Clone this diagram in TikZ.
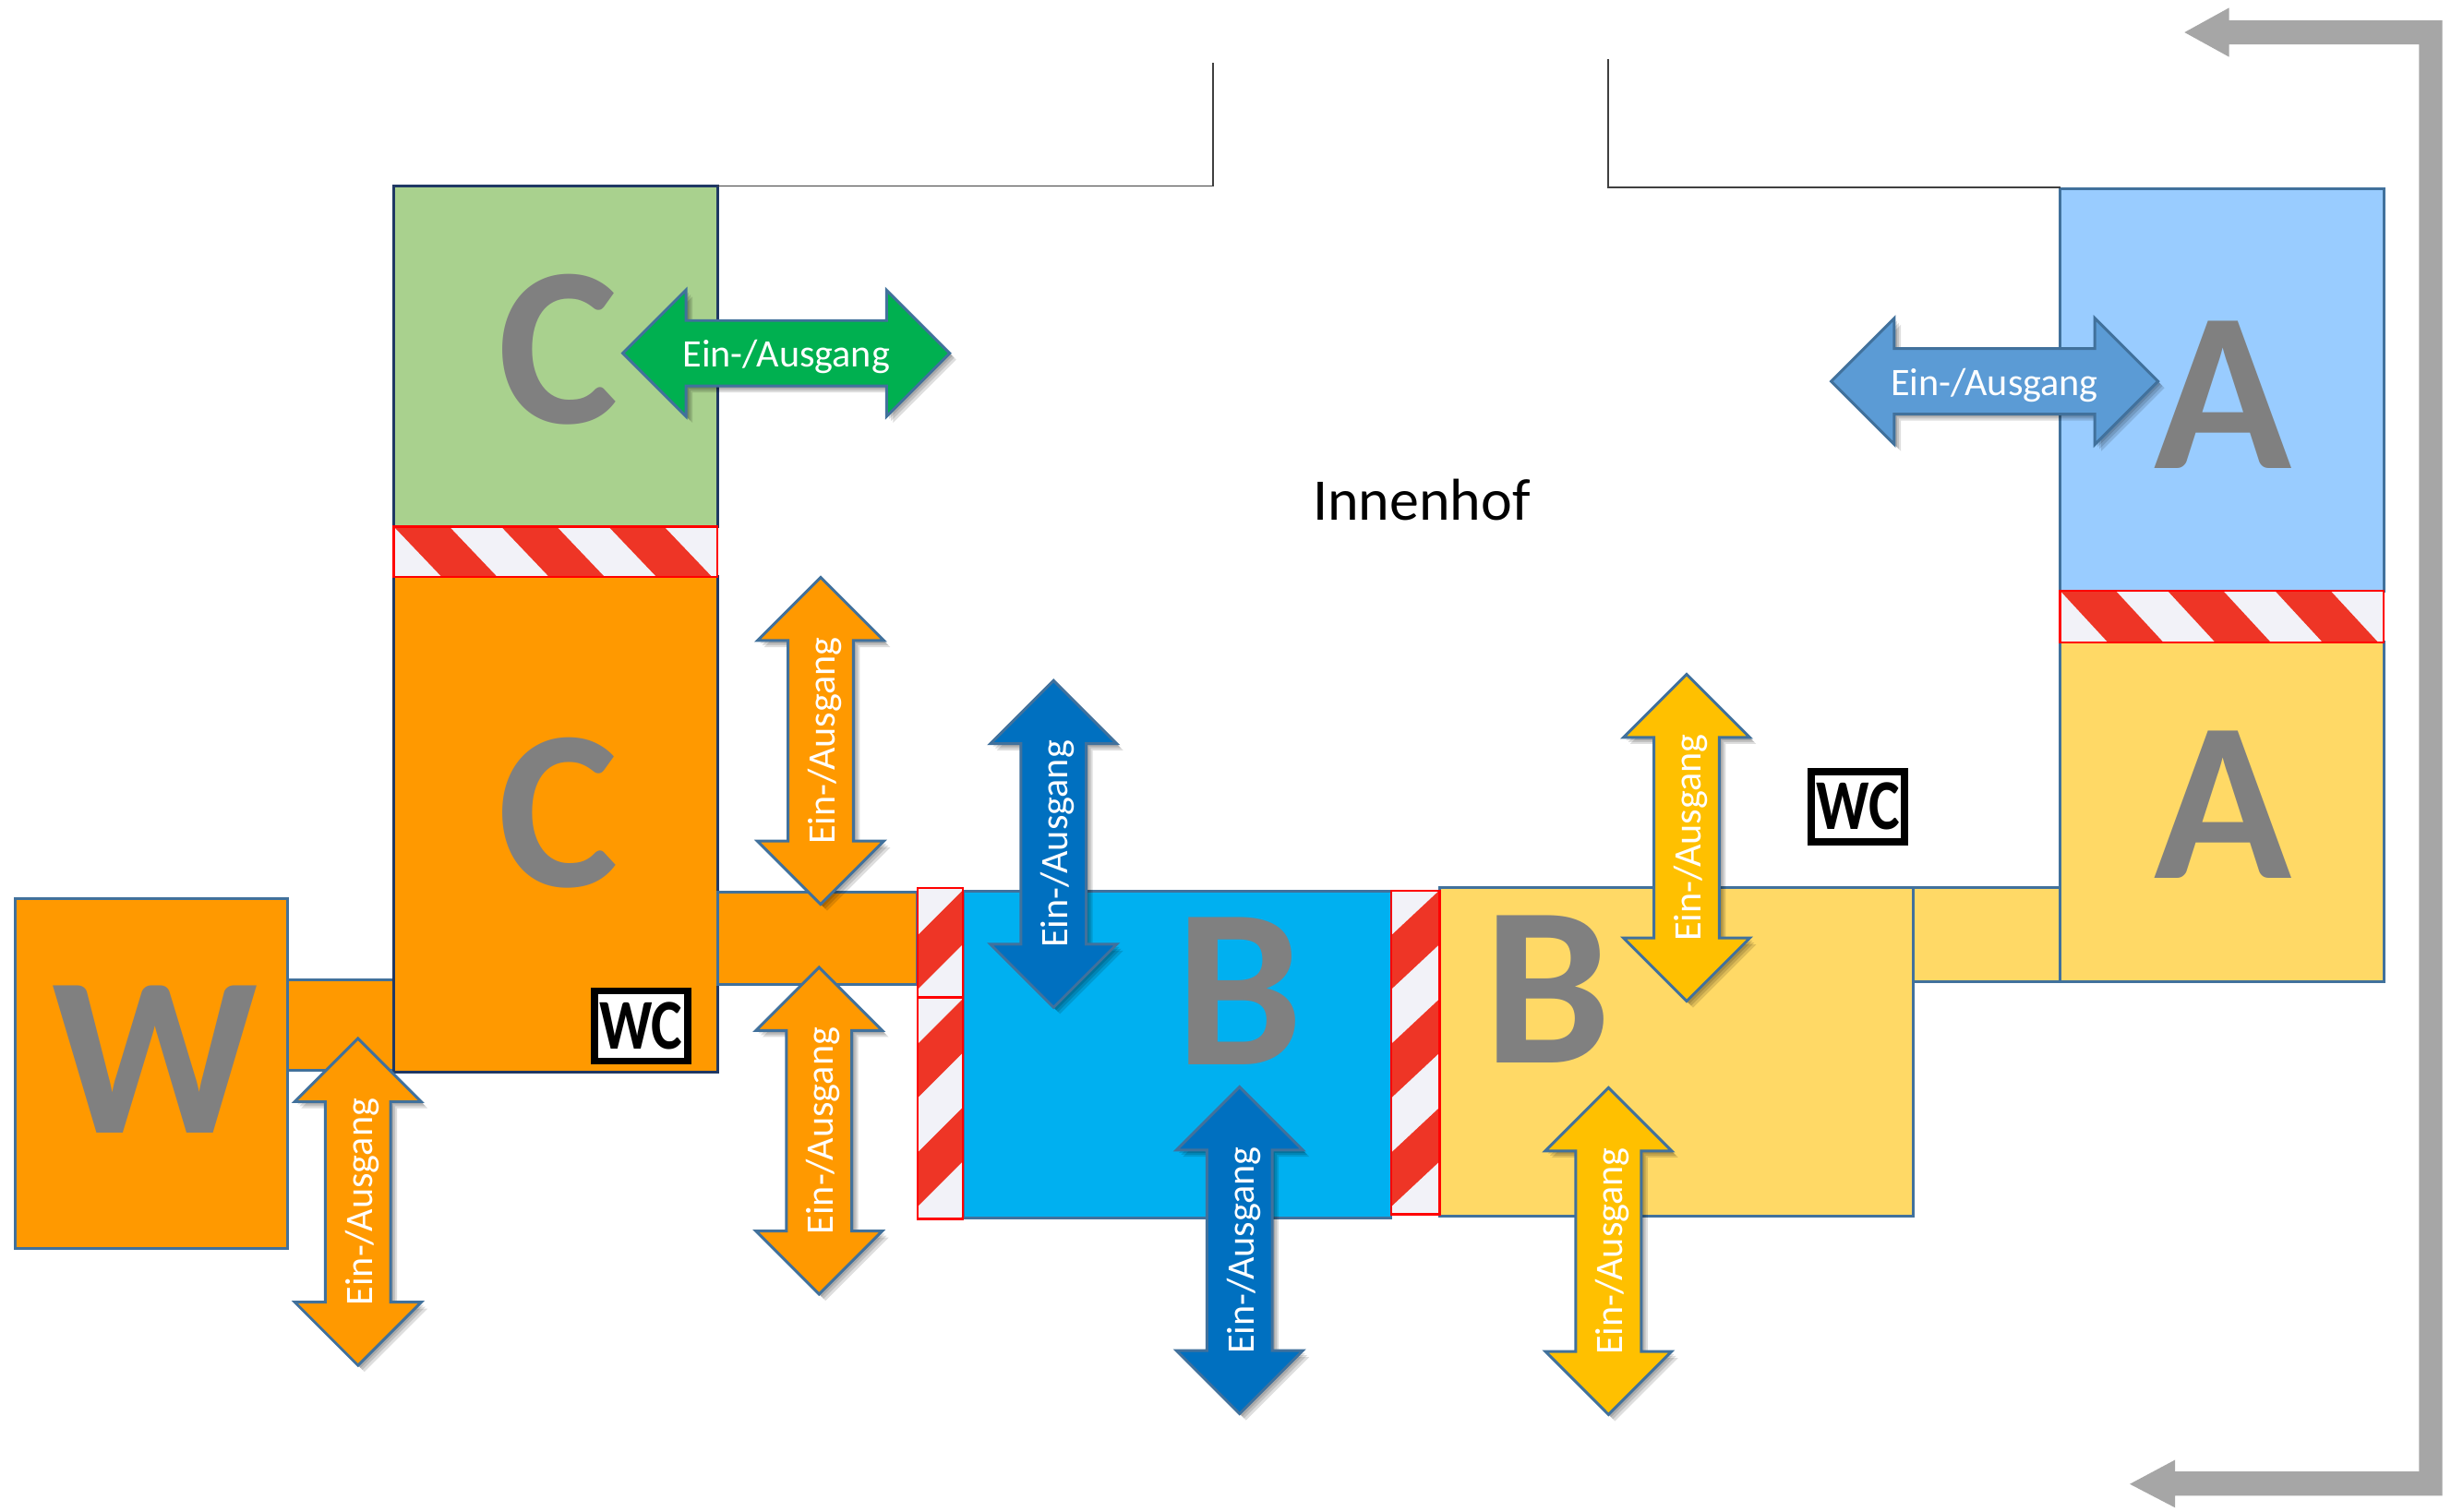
\documentclass[tikz,border=0pt]{standalone}
\usepackage{fontspec}
\setmainfont{Carlito}
\usetikzlibrary{shapes.arrows,shadows}

\definecolor{frameblue}{HTML}{41719C}
\definecolor{framenavy}{HTML}{1F3864}
\definecolor{roomorange}{HTML}{FF9900}
\definecolor{roomgreen}{HTML}{A9D18E}
\definecolor{roomblue}{HTML}{00B0F0}
\definecolor{roomsky}{HTML}{99CCFF}
\definecolor{roomyellow}{HTML}{FFD966}
\definecolor{arrgreen}{HTML}{00B050}
\definecolor{arrsky}{HTML}{5B9BD5}
\definecolor{arrblue}{HTML}{0070C0}
\definecolor{arryellow}{HTML}{FFC000}
\definecolor{hazred}{HTML}{EE3526}
\definecolor{hazwhite}{HTML}{F2F2F8}
\definecolor{lettergray}{HTML}{808080}
\definecolor{routegray}{HTML}{A6A6A6}

% red and white bands, lying and standing
\newcommand{\stripeH}[4]{
  \begin{scope}
    \clip (#1,#2) rectangle (#3,#4);
    \fill [hazwhite] (#1,#2) rectangle (#3,#4);
    \foreach \k in {-1,0,1,2,3}
      \fill [hazred] ({#1+\k*68.7},#2) -- ({#1+\k*68.7+35.5},#2)
        -- ({#1+\k*68.7+66},#4) -- ({#1+\k*68.7+30.5},#4) -- cycle;
  \end{scope}
  \draw [hazframe] (#1,#2) rectangle (#3,#4);
}
\newcommand{\stripeV}[4]{
  \begin{scope}
    \clip (#1,#2) rectangle (#3,#4);
    \fill [hazwhite] (#1,#2) rectangle (#3,#4);
    \foreach \k in {-1,0,1,2,3}
      \fill [hazred] (#3,{569.5+\k*69.5}) -- (#3,{604+\k*69.5})
        -- (#1,{633+\k*69.5}) -- (#1,{598.5+\k*69.5}) -- cycle;
  \end{scope}
  \draw [hazframe] (#1,#2) rectangle (#3,#4);
}

\begin{document}
\begin{tikzpicture}[
  x=0.1693mm, y=-0.1693mm,
  room/.style={draw=frameblue, line width=0.85pt},
  navyroom/.style={draw=framenavy, line width=0.85pt},
  wall/.style={draw=black!75, line width=0.5pt},
  hazframe/.style={draw=red, line width=0.7pt},
  letter/.style={anchor=base, text=lettergray, inner sep=0pt, font=\fontsize{70}{80}\selectfont\bfseries},
  softshade/.style={drop shadow={shadow xshift=#1, shadow yshift=-#1, opacity=0.13, fill=black}},
  ioarr/.style={double arrow, draw=frameblue, line width=0.85pt, text=white, font=\fontsize{12}{14}\selectfont,
    minimum height=35.4mm, double arrow head extend=3.3mm, inner xsep=0pt, inner ysep=0pt,
    text height=14pt, text depth=5.3pt, align=center,
    softshade=2pt, softshade=1.4pt, softshade=0.8pt},
  wcbox/.style={draw=black, line width=2.2pt, fill=white, minimum width=10.1mm, minimum height=7.6mm,
    inner sep=0pt, font=\fontsize{22}{24}\selectfont\bfseries},
  route/.style={fill=routegray}
]
\useasboundingbox (0,0) rectangle (1568,967);

% rooms
\draw [room, fill=roomorange] (10,575) rectangle (184,799);
\draw [room, fill=roomorange] (184,627) rectangle (252,685);
\draw [navyroom, fill=roomgreen] (252,119) rectangle (459,337);
\draw [navyroom, fill=roomorange] (252,369) rectangle (459,686);
\draw [room, fill=roomorange] (459,571) rectangle (587,630);
\draw [room, fill=roomblue] (616,570) rectangle (890,779);
\draw [room, fill=roomyellow] (921,568) rectangle (1224,778);
\draw [room, fill=roomyellow] (1224,568) rectangle (1318,628);
\draw [room, fill=roomyellow] (1318,411) rectangle (1525,628);
\draw [room, fill=roomsky] (1318,121) rectangle (1525,378);

% courtyard walls
\draw [wall] (459,119) -- (776,119) -- (776,40);
\draw [wall] (1029,38) -- (1029,120) -- (1318,120);

% fire doors
\stripeH{252}{337}{459}{369}
\stripeH{1318}{378}{1525}{411}
\stripeV{587}{568}{616}{638}
\stripeV{587}{638}{616}{780}
\stripeV{890}{570}{921}{777}

% letters
\node (letW) [letter] at (99,725) {W};
\node (letCtop) [letter] at (357,271) {C};
\node (letCbot) [letter] at (357,567) {C};
\node (letBleft) [letter] at (793,681) {B};
\node (letBright) [letter] at (990,680) {B};
\node (letAtop) [letter] at (1422,300) {A};
\node (letAbot) [letter] at (1422,562) {A};

% doors
\node (doorW) [ioarr, fill=roomorange, rotate=90] at (229,769) {Ein-/Ausgang};
\node (doorCup) [ioarr, fill=roomorange, rotate=90] at (525,474) {Ein-/Ausgang};
\node (doorClow) [ioarr, fill=roomorange, rotate=90] at (524,723.5) {Ein-/Ausgang};
\node (doorBup) [ioarr, fill=arrblue, rotate=90] at (674,540) {Ein-/Ausgang};
\node (doorBlow) [ioarr, fill=arrblue, rotate=90] at (793,800) {Ein-/Ausgang};
\node (doorYup) [ioarr, fill=arryellow, rotate=90] at (1079,536) {Ein-/Ausgang};
\node (doorYlow) [ioarr, fill=arryellow, rotate=90] at (1029,800.5) {Ein-/Ausgang};
\node (doorC) [ioarr, fill=arrgreen] at (503,226) {Ein-/Ausgang};
\node (doorA) [ioarr, fill=arrsky] at (1276,244) {Ein-/Ausgang};

% toilets
\node (wcC) [wcbox] at (410,656.5) {\scalebox{0.82}[1]{WC}};
\node (wcB) [wcbox] at (1188.5,516) {\scalebox{0.82}[1]{WC}};

\node (yard) [font=\fontsize{18.2}{22}\selectfont, inner sep=0pt] at (909.5,320) {Innenhof};

% way round the building
\path [route] (1397.5,20.7) -- (1426,5) -- (1426,13) -- (1562.5,13) -- (1562.5,957)
  -- (1391.5,957) -- (1391.5,964.6) -- (1362.5,949.5) -- (1391.5,934) -- (1391.5,941.5)
  -- (1547.5,941.5) -- (1547.5,28.5) -- (1426,28.5) -- (1426,36.4) -- cycle;
\end{tikzpicture}
\end{document}
